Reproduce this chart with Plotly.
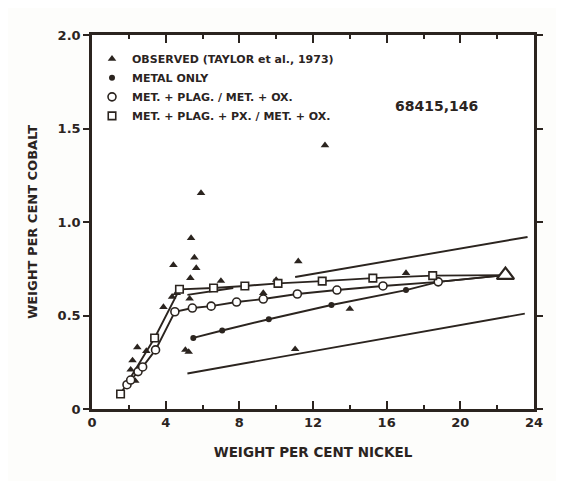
import plotly.graph_objects as go

INK = "#2b241f"
FONT = "DejaVu Sans"

# ---- data ----
obs_x = [12.65, 5.92, 5.38, 5.56, 4.42, 5.66, 5.34, 7.0, 10.0, 9.3, 11.2, 17.05, 14.0,
         11.03, 3.88, 2.46, 2.2, 2.1, 5.07, 5.25, 4.35, 4.6, 5.3, 2.95, 2.35]
obs_y = [1.41, 1.155, 0.914, 0.81, 0.77, 0.754, 0.70, 0.685, 0.69, 0.62, 0.79, 0.727, 0.535,
         0.32, 0.545, 0.33, 0.26, 0.21, 0.316, 0.305, 0.60, 0.62, 0.59, 0.31, 0.15]

metal_x = [5.5, 7.07, 9.6, 13.0, 17.05]
metal_y = [0.38, 0.42, 0.48, 0.556, 0.636]

plag_x = [1.9, 2.1, 2.5, 2.75, 3.45, 4.5, 5.45, 6.47, 7.85, 9.3, 11.15, 13.3, 15.8, 18.8]
plag_y = [0.13, 0.155, 0.2, 0.225, 0.316, 0.52, 0.54, 0.55, 0.572, 0.588, 0.615, 0.636, 0.658, 0.68]

px_x = [1.55, 3.4, 4.75, 6.6, 8.3, 10.1, 12.5, 15.25, 18.5]
px_y = [0.08, 0.38, 0.64, 0.647, 0.658, 0.672, 0.684, 0.70, 0.713]

# convergence point (large open triangle)
end_x = [22.45]
end_y = [0.716]

# unmarked straight lines
upper_x = [11.03, 23.65]
upper_y = [0.706, 0.92]
lower_x = [5.18, 23.5]
lower_y = [0.19, 0.51]
short_x = [5.18, 7.67]
short_y = [0.61, 0.647]

x_ticks = [0, 4, 8, 12, 16, 20, 24]
x_ticktext = ["0", "4", "8", "12", "16", "20", "24"]
y_ticks = [0, 0.5, 1.0, 1.5, 2.0]
y_ticktext = ["0", "0.5", "1.0", "1.5", "2.0"]

legend_names = ["OBSERVED (TAYLOR et al., 1973)", "METAL ONLY",
                "MET. + PLAG. / MET. + OX.", "MET. + PLAG. + PX. / MET. + OX."]

fig = go.Figure()

line_style = dict(color=INK, width=1.9)

# straight lines
for xs, ys in [(upper_x, upper_y), (lower_x, lower_y), (short_x, short_y)]:
    fig.add_trace(go.Scatter(x=xs, y=ys, mode="lines", line=line_style,
                             showlegend=False, hoverinfo="skip"))

# connecting lines to the convergence point
fig.add_trace(go.Scatter(x=metal_x + [plag_x[-1]] + end_x, y=metal_y + [plag_y[-1]] + end_y,
                         mode="lines", line=line_style, showlegend=False, hoverinfo="skip"))
fig.add_trace(go.Scatter(x=plag_x + end_x, y=plag_y + end_y,
                         mode="lines", line=line_style, showlegend=False, hoverinfo="skip"))
fig.add_trace(go.Scatter(x=px_x + end_x, y=px_y + end_y,
                         mode="lines", line=line_style, showlegend=False, hoverinfo="skip"))

# observed triangles
fig.add_trace(go.Scatter(x=obs_x, y=obs_y, mode="markers", name=legend_names[0],
                         marker=dict(symbol="triangle-up", size=7.5, color=INK)))
fig.add_trace(go.Scatter(x=end_x, y=end_y, mode="markers", showlegend=False,
                         marker=dict(symbol="triangle-up", size=15, color="white",
                                     line=dict(color=INK, width=2.2))))
# metal only
fig.add_trace(go.Scatter(x=metal_x, y=metal_y, mode="markers", name=legend_names[1],
                         marker=dict(symbol="circle", size=6, color=INK)))
# met + plag
fig.add_trace(go.Scatter(x=plag_x, y=plag_y, mode="markers", name=legend_names[2],
                         marker=dict(symbol="circle", size=8, color="white",
                                     line=dict(color=INK, width=1.6))))
# met + plag + px
fig.add_trace(go.Scatter(x=px_x, y=px_y, mode="markers", name=legend_names[3],
                         marker=dict(symbol="square", size=7.5, color="white",
                                     line=dict(color=INK, width=1.6))))

fig.add_annotation(x=18.7, y=1.62, text="68415,146", showarrow=False,
                   font=dict(family=FONT, size=14, color=INK, weight="bold"))

axis_common = dict(showline=True, linecolor=INK, linewidth=2.5, mirror="ticks",
                   showgrid=False, zeroline=False, tickcolor=INK, tickwidth=2,
                   tickfont=dict(family=FONT, size=13, color=INK, weight="bold"))

fig.update_xaxes(range=[0, 24], tickvals=x_ticks, ticktext=x_ticktext,
                 ticks="inside", ticklen=8,
                 minor=dict(dtick=2, ticks="inside", ticklen=4, tickcolor=INK, tickwidth=1.5),
                 title=dict(text="WEIGHT PER CENT NICKEL", standoff=19,
                            font=dict(family=FONT, size=13.5, color=INK, weight="bold")),
                 **axis_common)
fig.update_yaxes(range=[0, 2.0], tickvals=y_ticks, ticktext=y_ticktext,
                 ticks="outside", ticklen=6,
                 title=dict(text="WEIGHT PER CENT COBALT", standoff=18,
                            font=dict(family=FONT, size=13, color=INK, weight="bold")),
                 **axis_common)

fig.update_layout(
    width=564, height=481,
    margin=dict(l=84, r=38, t=27, b=80),
    plot_bgcolor="white", paper_bgcolor="#fdfdfb",
    legend=dict(x=0.0, y=0.975, xanchor="left", yanchor="top",
                bgcolor="rgba(0,0,0,0)", itemwidth=30, tracegroupgap=0,
                font=dict(family=FONT, size=11, color=INK, weight="bold")),
)

fig.write_html("out.html")
